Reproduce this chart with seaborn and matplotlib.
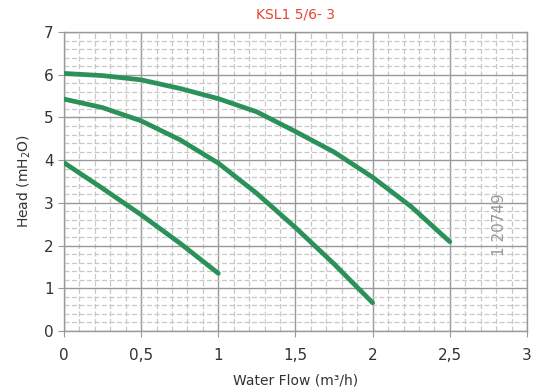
import matplotlib
matplotlib.use("Agg")
import matplotlib.pyplot as plt
import seaborn as sns
import pandas as pd
from matplotlib.ticker import MultipleLocator, FuncFormatter

flow_top = [0, 0.25, 0.5, 0.75, 1.0, 1.25, 1.5, 1.75, 2.0, 2.25, 2.5]
head_top = [6.03, 5.98, 5.88, 5.68, 5.44, 5.13, 4.67, 4.19, 3.60, 2.91, 2.09]
flow_mid = [0, 0.25, 0.5, 0.75, 1.0, 1.25, 1.5, 1.75, 2.0]
head_mid = [5.43, 5.23, 4.92, 4.48, 3.93, 3.22, 2.42, 1.57, 0.66]
flow_low = [0, 0.25, 0.5, 0.75, 1.0]
head_low = [3.94, 3.34, 2.72, 2.06, 1.35]

title = "KSL1 5/6- 3"
xlabel = "Water Flow (m³/h)"
ylabel = "Head (mH$_2$O)"
watermark = "1 20749"

sns.set_style("white")
plt.rcParams['font.family'] = ['DejaVu Sans']

frames = []
for name, xs, ys in [("top", flow_top, head_top), ("mid", flow_mid, head_mid), ("low", flow_low, head_low)]:
    frames.append(pd.DataFrame({"flow": xs, "head": ys, "curve": name}))
df = pd.concat(frames, ignore_index=True)

fig = plt.figure(figsize=(5.35, 3.92), dpi=100)
ax = fig.add_axes([0.1196, 0.1556, 0.8654, 0.7627])

green = "#2a9158"
sns.lineplot(data=df, x="flow", y="head", hue="curve", palette=[green, green, green],
             linewidth=3.4, legend=False, ax=ax, sort=False, estimator=None, zorder=5)
for ln in ax.get_lines():
    ln.set_solid_joinstyle("round")

ax.set_xlim(0, 3)
ax.set_ylim(0, 7)
ax.xaxis.set_major_locator(MultipleLocator(0.5))
ax.xaxis.set_minor_locator(MultipleLocator(0.1))
ax.yaxis.set_major_locator(MultipleLocator(1))
ax.yaxis.set_minor_locator(MultipleLocator(0.2))
fmt = FuncFormatter(lambda v, p: ("%g" % v).replace(".", ","))
ax.xaxis.set_major_formatter(fmt)
ax.yaxis.set_major_formatter(FuncFormatter(lambda v, p: "%d" % v))

ax.grid(which="major", color="#999999", linewidth=1.0, linestyle="-")
ax.grid(which="minor", color="#c8c8c8", linewidth=0.9, linestyle=(0, (4, 2)))
ax.set_axisbelow(True)
for s in ax.spines.values():
    s.set_color("#999999")
    s.set_linewidth(1.0)

ax.tick_params(axis="both", which="major", labelsize=11, colors="#333333", length=4,
               color="#999999", direction="out", left=True, bottom=True)
ax.tick_params(axis="both", which="minor", length=0)
ax.tick_params(axis="x", pad=8)

ax.set_xlabel(xlabel, fontsize=10, color="#333333", labelpad=8)
ax.set_ylabel(ylabel, fontsize=10, color="#333333", labelpad=8)
ax.set_title(title, fontsize=10, color="#e8432f", pad=10)

ax.text(2.82, 2.5, watermark, rotation=90, fontsize=11, color="#999999",
        ha="center", va="center", zorder=6)

fig.savefig("out.png", dpi=100)
